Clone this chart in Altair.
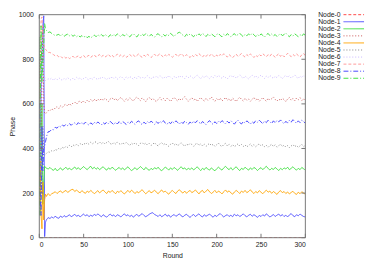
import altair as alt
import pandas as pd

names = ["Node-0", "Node-1", "Node-2", "Node-3", "Node-4",
         "Node-5", "Node-6", "Node-7", "Node-8", "Node-9"]
colors = ["#ff4848", "#5050ff", "#40e040", "#c85050", "#ffa500",
          "#808080", "#c8b4ff", "#ff9a9a", "#4848ff", "#40e040"]
dashes = [[3, 2], [1, 0], [1, 0], [1, 2], [1, 0],
          [1, 2], [1, 2], [3, 2], [5, 2, 1, 2], [5, 2, 1, 2]]

early_rounds = [0, 1, 2, 3, 4, 5, 6, 7, 8, 9, 10]
steady_rounds = list(range(12, 301, 2))
xticks = [0, 50, 100, 150, 200, 250, 300]
yticks = [0, 200, 400, 600, 800, 1000]

early = {
    "Node-0": [0, 0, 0, 0, 0, 0, 0, 0, 0, 0, 0],
    "Node-1": [250, 450, 650, 820, 950, 995, 5, 70, 80, 85, 90],
    "Node-2": [900, 100, 400, 600, 150, 250, 320, 315, 312, 310, 308],
    "Node-3": [800, 400, 200, 700, 950, 600, 560, 555, 560, 565, 570],
    "Node-4": [150, 350, 100, 40, 250, 80, 170, 195, 185, 192, 198],
    "Node-5": [700, 900, 300, 200, 500, 380, 370, 375, 378, 382, 385],
    "Node-6": [400, 300, 600, 900, 800, 750, 720, 705, 708, 710, 712],
    "Node-7": [500, 750, 980, 990, 900, 870, 850, 845, 840, 835, 830],
    "Node-8": [600, 200, 100, 500, 300, 400, 410, 430, 450, 465, 475],
    "Node-9": [100, 600, 950, 700, 800, 870, 960, 935, 930, 925, 920],
}

steady = {
    "Node-0": [0] * 145,
    "Node-1": [86, 93, 88, 96, 90, 87, 97, 91, 99, 93,
               97, 103, 94, 99, 105, 96, 101, 93, 100, 106,
               98, 103, 94, 101, 96, 105, 99, 107, 100, 94,
               103, 97, 92, 100, 106, 97, 102, 94, 103, 99,
               93, 101, 107, 98, 103, 95, 101, 92, 99, 105,
               96, 102, 108, 100, 94, 99, 105, 110, 112, 104,
               100, 95, 103, 94, 99, 106, 96, 102, 92, 99,
               104, 96, 101, 107, 98, 93, 101, 105, 97, 91,
               99, 104, 95, 101, 107, 98, 93, 103, 96, 101,
               106, 98, 92, 101, 95, 103, 108, 100, 93, 99,
               103, 95, 101, 94, 106, 98, 103, 95, 100, 107,
               99, 93, 101, 105, 96, 103, 98, 91, 100, 95,
               103, 97, 107, 100, 93, 98, 104, 95, 101, 106,
               97, 103, 95, 101, 93, 102, 108, 99, 94, 103,
               98, 106, 100, 95, 93],
    "Node-2": [315, 307, 302, 311, 300, 306, 313, 303, 309, 316,
               306, 312, 304, 310, 317, 307, 314, 305, 312, 319,
               311, 305, 314, 320, 309, 316, 307, 314, 305, 312,
               318, 309, 303, 313, 307, 316, 310, 302, 309, 315,
               306, 313, 304, 311, 318, 308, 301, 307, 314, 305,
               311, 319, 312, 304, 315, 308, 302, 311, 305, 314,
               308, 316, 306, 300, 309, 316, 311, 303, 313, 306,
               315, 309, 302, 311, 318, 308, 313, 304, 311, 306,
               313, 304, 310, 318, 309, 301, 311, 305, 315, 308,
               303, 313, 306, 300, 309, 316, 309, 303, 313, 320,
               311, 305, 314, 304, 311, 318, 308, 301, 311, 306,
               316, 309, 303, 313, 306, 315, 310, 301, 309, 314,
               305, 313, 320, 311, 303, 311, 306, 315, 308, 301,
               311, 305, 313, 308, 316, 305, 311, 318, 309, 303,
               311, 305, 315, 309, 303],
    "Node-3": [569, 578, 572, 582, 587, 579, 591, 584, 594, 599,
               590, 601, 594, 604, 608, 599, 609, 613, 604, 614,
               606, 616, 609, 619, 611, 621, 612, 622, 614, 624,
               615, 625, 618, 611, 622, 628, 617, 625, 614, 623,
               629, 620, 612, 623, 616, 627, 619, 613, 624, 631,
               622, 615, 627, 619, 611, 622, 629, 618, 625, 616,
               610, 620, 628, 617, 624, 614, 626, 619, 611, 622,
               630, 620, 613, 625, 616, 623, 632, 621, 612, 620,
               628, 617, 623, 611, 620, 629, 619, 613, 625, 616,
               622, 631, 620, 611, 623, 616, 626, 613, 620, 629,
               616, 623, 612, 626, 619, 610, 622, 630, 620, 613,
               625, 616, 622, 612, 620, 629, 617, 624, 611, 620,
               628, 619, 612, 625, 616, 623, 631, 620, 613, 622,
               615, 626, 619, 610, 622, 628, 617, 624, 613, 626,
               619, 628, 616, 623, 612],
    "Node-4": [189, 197, 201, 206, 198, 205, 210, 201, 207, 212,
               203, 209, 215, 217, 207, 214, 206, 201, 211, 204,
               199, 209, 203, 212, 205, 197, 204, 211, 201, 208,
               214, 205, 198, 209, 203, 212, 205, 197, 208, 203,
               211, 202, 196, 205, 212, 203, 213, 206, 198, 207,
               201, 209, 215, 205, 197, 204, 211, 201, 206, 213,
               204, 197, 207, 214, 204, 209, 201, 195, 205, 212,
               204, 198, 209, 215, 206, 200, 209, 199, 207, 212,
               202, 207, 214, 205, 196, 207, 212, 201, 209, 216,
               206, 198, 204, 212, 201, 209, 204, 196, 206, 214,
               204, 210, 201, 195, 205, 212, 206, 198, 209, 203,
               212, 202, 207, 215, 205, 198, 207, 201, 211, 204,
               197, 206, 213, 204, 209, 199, 207, 201, 194, 205,
               211, 202, 207, 198, 205, 196, 203, 208, 199, 194,
               204, 197, 206, 200, 195],
    "Node-5": [383, 390, 387, 396, 392, 401, 397, 405, 401, 410,
               405, 414, 407, 416, 411, 419, 413, 422, 415, 424,
               418, 426, 419, 428, 421, 427, 430, 422, 429, 421,
               428, 420, 427, 431, 422, 418, 427, 420, 429, 422,
               417, 426, 419, 427, 420, 414, 424, 417, 426, 419,
               413, 423, 427, 418, 424, 415, 423, 414, 420, 426,
               416, 412, 421, 426, 417, 423, 414, 410, 419, 425,
               415, 422, 412, 419, 425, 416, 411, 421, 414, 423,
               418, 410, 419, 424, 414, 421, 412, 419, 410, 417,
               423, 413, 419, 410, 417, 424, 414, 408, 418, 423,
               412, 419, 410, 417, 408, 414, 421, 411, 418, 409,
               416, 407, 414, 420, 410, 417, 408, 415, 421, 411,
               417, 408, 414, 405, 413, 419, 409, 416, 406, 413,
               419, 409, 415, 406, 413, 404, 411, 418, 408, 414,
               405, 412, 418, 408, 414],
    "Node-6": [710, 716, 706, 713, 708, 717, 711, 705, 714, 709,
               717, 711, 706, 715, 709, 719, 712, 717, 708, 714,
               720, 712, 707, 717, 711, 720, 714, 708, 719, 713,
               721, 715, 709, 718, 712, 722, 714, 720, 711, 717,
               724, 716, 710, 721, 715, 723, 717, 711, 721, 714,
               725, 716, 721, 713, 719, 726, 718, 712, 722, 716,
               724, 717, 726, 719, 713, 723, 716, 727, 719, 713,
               723, 716, 725, 718, 727, 720, 713, 724, 717, 726,
               720, 713, 723, 729, 720, 713, 724, 717, 727, 720,
               713, 723, 717, 727, 719, 728, 721, 714, 724, 718,
               712, 722, 729, 719, 726, 716, 722, 730, 721, 714,
               725, 718, 712, 722, 728, 719, 726, 715, 722, 729,
               721, 714, 725, 718, 728, 720, 714, 724, 717, 727,
               721, 713, 722, 729, 719, 726, 716, 722, 730, 720,
               714, 725, 718, 727, 721],
    "Node-7": [831, 825, 821, 815, 818, 811, 814, 806, 812, 805,
               811, 803, 808, 814, 805, 811, 815, 806, 812, 817,
               807, 813, 818, 809, 815, 820, 810, 816, 821, 811,
               818, 810, 815, 822, 812, 819, 810, 816, 823, 813,
               820, 811, 818, 809, 814, 822, 813, 820, 811, 817,
               824, 814, 809, 819, 812, 822, 816, 808, 815, 823,
               813, 818, 825, 816, 810, 820, 813, 822, 816, 809,
               816, 823, 812, 818, 826, 817, 811, 821, 814, 808,
               819, 812, 822, 815, 825, 818, 810, 819, 812, 822,
               815, 824, 817, 809, 819, 812, 822, 815, 825, 817,
               810, 821, 814, 807, 816, 823, 813, 819, 826, 816,
               810, 821, 814, 824, 817, 808, 818, 812, 822, 815,
               825, 818, 811, 821, 814, 824, 817, 808, 818, 825,
               813, 820, 811, 817, 827, 818, 812, 822, 815, 824,
               817, 810, 820, 826, 816],
    "Node-8": [477, 486, 484, 495, 491, 501, 497, 505, 500, 509,
               502, 511, 504, 512, 515, 506, 516, 508, 517, 509,
               518, 510, 505, 515, 508, 518, 510, 519, 512, 505,
               516, 509, 519, 511, 521, 514, 507, 518, 510, 520,
               511, 521, 515, 508, 519, 512, 522, 515, 508, 519,
               524, 513, 507, 518, 511, 521, 513, 523, 516, 508,
               520, 512, 522, 515, 525, 514, 508, 519, 511, 522,
               513, 524, 517, 509, 520, 512, 523, 516, 508, 519,
               511, 523, 515, 525, 518, 510, 521, 514, 507, 518,
               525, 514, 508, 520, 512, 523, 515, 525, 518, 510,
               522, 514, 525, 517, 509, 520, 527, 516, 510, 521,
               513, 524, 517, 509, 520, 513, 525, 518, 527, 519,
               511, 523, 516, 527, 520, 512, 524, 515, 526, 519,
               528, 518, 511, 522, 514, 526, 518, 529, 521, 513,
               524, 516, 527, 521, 513],
    "Node-9": [923, 916, 911, 906, 909, 912, 904, 911, 903, 909,
               913, 905, 911, 903, 909, 901, 907, 900, 906, 898,
               905, 897, 903, 896, 902, 909, 901, 910, 904, 911,
               903, 912, 906, 900, 910, 903, 912, 905, 914, 907,
               901, 911, 905, 914, 907, 900, 910, 915, 906, 900,
               911, 904, 913, 906, 915, 908, 902, 912, 905, 899,
               910, 915, 906, 900, 911, 904, 913, 906, 916, 909,
               902, 912, 917, 922, 914, 908, 901, 912, 905, 914,
               908, 901, 912, 905, 914, 907, 916, 910, 902, 912,
               905, 914, 908, 901, 911, 916, 907, 901, 912, 905,
               915, 908, 900, 909, 915, 905, 911, 917, 908, 901,
               912, 905, 914, 907, 917, 910, 902, 911, 904, 914,
               907, 900, 910, 916, 906, 913, 905, 911, 902, 909,
               915, 906, 911, 917, 908, 901, 911, 904, 914, 908,
               901, 910, 904, 914, 907],
}

rows = []
for n in names:
    assert len(steady[n]) == len(steady_rounds), n
    for r, v in zip(early_rounds + steady_rounds, early[n] + steady[n]):
        rows.append({"round": r, "phase": v, "node": n})
df = pd.DataFrame(rows)

W, H = 272, 228
FONT = "Liberation Sans"
FRAME = "#777777"

color_scale = alt.Scale(domain=names, range=colors)
dash_scale = alt.Scale(domain=names, range=dashes)
xs = alt.Scale(domain=[0, 300], nice=False)
ys = alt.Scale(domain=[0, 1000], nice=False)
x_axis = alt.Axis(values=xticks, title="Round", domain=False, ticks=False,
                  grid=False, labelPadding=3, titlePadding=4, format="d")
y_axis = alt.Axis(values=yticks, title="Phase", domain=False, ticks=False,
                  grid=False, labelPadding=6, titlePadding=3, format="d")

lines = alt.Chart(df).mark_line(strokeWidth=1, clip=True).encode(
    x=alt.X("round:Q", scale=xs, axis=x_axis),
    y=alt.Y("phase:Q", scale=ys, axis=y_axis),
    color=alt.Color("node:N", scale=color_scale, legend=None),
    strokeDash=alt.StrokeDash("node:N", scale=dash_scale, legend=None),
    detail="node:N",
)

frame = alt.Chart(pd.DataFrame({"a": [0]})).mark_rect(
    filled=False, stroke=FRAME, strokeWidth=1
).encode(x=alt.value(0), x2=alt.value(W), y=alt.value(0), y2=alt.value(H))

xt = pd.DataFrame({"round": xticks})
yt = pd.DataFrame({"phase": yticks})
tick_b = alt.Chart(xt).mark_rule(color=FRAME, strokeWidth=1).encode(
    x=alt.X("round:Q", scale=xs, axis=x_axis), y=alt.value(H), y2=alt.value(H - 4))
tick_t = alt.Chart(xt).mark_rule(color=FRAME, strokeWidth=1).encode(
    x=alt.X("round:Q", scale=xs, axis=x_axis), y=alt.value(0), y2=alt.value(4))
tick_l = alt.Chart(yt).mark_rule(color=FRAME, strokeWidth=1).encode(
    y=alt.Y("phase:Q", scale=ys, axis=y_axis), x=alt.value(0), x2=alt.value(4))
tick_r = alt.Chart(yt).mark_rule(color=FRAME, strokeWidth=1).encode(
    y=alt.Y("phase:Q", scale=ys, axis=y_axis), x=alt.value(W), x2=alt.value(W - 4))

main = alt.layer(lines, frame, tick_b, tick_t, tick_l, tick_r).properties(width=W, height=H)

leg_df = pd.DataFrame({"node": names})
leg_y = alt.Y("node:N", scale=alt.Scale(domain=names, type="point", padding=0), axis=None)
leg_text = alt.Chart(leg_df).mark_text(
    align="right", baseline="middle", fontSize=7, font=FONT, color="#222222"
).encode(x=alt.value(26), y=leg_y, text="node:N")
leg_line = alt.Chart(leg_df).mark_rule(strokeWidth=1).encode(
    x=alt.value(29), x2=alt.value(50), y=leg_y,
    color=alt.Color("node:N", scale=color_scale, legend=None),
    strokeDash=alt.StrokeDash("node:N", scale=dash_scale, legend=None),
)
legend = alt.layer(leg_text, leg_line).properties(width=52, height=65)

chart = alt.hconcat(main, legend, spacing=9).properties(
    padding={"left": 0, "top": 0, "right": 0, "bottom": 0}
).configure_axis(
    labelFont=FONT, labelFontSize=7, labelColor="#222222",
    titleFont=FONT, titleFontSize=7, titleFontWeight="normal", titleColor="#222222",
).configure_view(stroke=None)

chart.save("out.html", embed_options={"renderer": "svg", "actions": False})
